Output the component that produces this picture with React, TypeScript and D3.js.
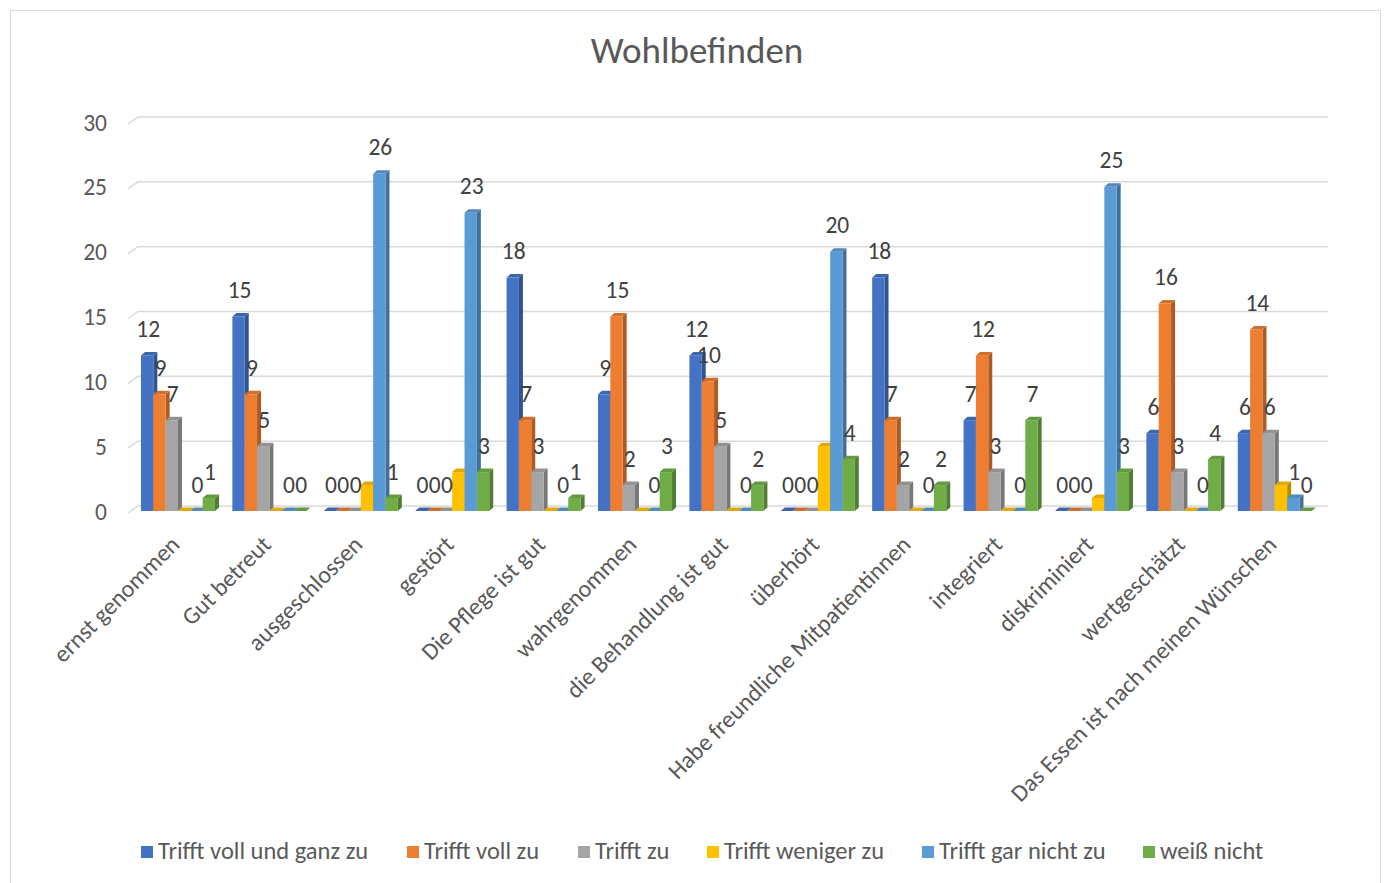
import React from "react";
import * as d3 from "d3";

const categories = [
  "ernst genommen",
  "Gut betreut",
  "ausgeschlossen",
  "gestört",
  "Die Pflege ist gut",
  "wahrgenommen",
  "die Behandlung ist gut",
  "überhört",
  "Habe freundliche Mitpatientinnen",
  "integriert",
  "diskriminiert",
  "wertgeschätzt",
  "Das Essen ist nach meinen Wünschen",
];

const seriesNames = [
  "Trifft voll und ganz zu",
  "Trifft voll zu",
  "Trifft zu",
  "Trifft weniger zu",
  "Trifft gar nicht zu",
  "weiß nicht",
];

const trifftVollUndGanz = [12, 15, 0, 0, 18, 9, 12, 0, 18, 7, 0, 6, 6];
const trifftVoll = [9, 9, 0, 0, 7, 15, 10, 0, 7, 12, 0, 16, 14];
const trifftZu = [7, 5, 0, 0, 3, 2, 5, 0, 2, 3, 0, 3, 6];
const trifftWeniger = [0, 0, 2, 3, 0, 0, 0, 5, 0, 0, 1, 0, 2];
const trifftGarNicht = [0, 0, 26, 23, 0, 0, 0, 20, 0, 0, 25, 0, 1];
const weissNicht = [1, 0, 1, 3, 1, 3, 2, 4, 2, 7, 3, 4, 0];

const seriesValues = [trifftVollUndGanz, trifftVoll, trifftZu, trifftWeniger, trifftGarNicht, weissNicht];
const seriesColors = ["#4472C4", "#ED7D31", "#A5A5A5", "#FFC000", "#5B9BD5", "#70AD47"];
const seriesShowLabels = [true, true, true, false, true, true];

const yTicks = [0, 5, 10, 15, 20, 25, 30];

const FONT = "Carlito, Calibri, 'Liberation Sans', Arial, sans-serif";
const TEXT = "#595959";

export default function App() {
  const W = 1391;
  const H = 883;
  const x0 = d3
    .scaleBand<string>()
    .domain(categories)
    .range([132.3, 1320.5])
    .paddingInner(0.19)
    .paddingOuter(0.095);
  const x1 = d3
    .scaleBand<string>()
    .domain(seriesNames)
    .range([0, x0.bandwidth()]);
  const y = d3.scaleLinear().domain([0, 30]).range([511, 122]);

  const dx = 4;
  const dy = 3.5;
  const backDx = 10;
  const backDy = 7;

  const legendX = [141, 407, 578, 707, 922, 1143];

  return (
    <svg
      width={W}
      height={H}
      style={{ position: "fixed", left: 0, top: 0, background: "#fff" }}
      fontFamily={FONT}
    >
      <rect x={0} y={0} width={W} height={H} fill="#fff" />
      <rect x={10.5} y={10.5} width={1370} height={890} fill="none" stroke="#d9d9d9" strokeWidth={1} />
      <text x={697} y={54} textAnchor="middle" dominantBaseline="middle" fontSize={37} fill={TEXT}>
        Wohlbefinden
      </text>

      {/* gridlines */}
      {yTicks.map((t) => (
        <g key={t}>
          <polyline
            points={`${128},${y(t) + 2} ${128 + backDx},${y(t) + 2 - backDy} ${1328},${y(t) + 2 - backDy}`}
            fill="none"
            stroke="#d9d9d9"
            strokeWidth={1.5}
          />
          <text x={107} y={y(t) + 3} textAnchor="end" dominantBaseline="middle" fontSize={23.5} fill={TEXT}>
            {t}
          </text>
        </g>
      ))}

      {/* bars */}
      {categories.map((c, ci) => {
        const gx = x0(c) as number;
        return (
          <g key={c}>
            {seriesNames.map((s, si) => {
              const v = seriesValues[si][ci];
              const bx = gx + (x1(s) as number);
              const bw = x1.bandwidth();
              const top = y(v);
              const base = y(0);
              const col = d3.color(seriesColors[si])!;
              const side = col.darker(0.9).formatHex();
              const topc = col.darker(0.35).formatHex();
              return (
                <g key={s}>
                  <polygon
                    points={`${bx + bw},${top} ${bx + bw + dx},${top - dy} ${bx + bw + dx},${base - dy} ${bx + bw},${base}`}
                    fill={side}
                  />
                  <rect x={bx} y={top} width={bw} height={base - top} fill={seriesColors[si]} />
                  <polygon
                    points={`${bx},${top} ${bx + dx},${top - dy} ${bx + bw + dx},${top - dy} ${bx + bw},${top}`}
                    fill={topc}
                  />
                </g>
              );
            })}
          </g>
        );
      })}

      {/* data labels */}
      {categories.map((c, ci) => {
        const gx = x0(c) as number;
        return (
          <g key={c + "-l"}>
            {seriesNames.map((s, si) => {
              if (!seriesShowLabels[si]) return null;
              const v = seriesValues[si][ci];
              const cx = gx + (x1(s) as number) + x1.bandwidth() / 2 + 1;
              return (
                <text
                  key={s}
                  x={cx}
                  y={y(v) - 24}
                  textAnchor="middle"
                  dominantBaseline="middle"
                  fontSize={23.5}
                  fill="#404040"
                >
                  {v}
                </text>
              );
            })}
          </g>
        );
      })}

      {/* category labels */}
      {categories.map((c) => {
        const cx = (x0(c) as number) + x0.bandwidth() / 2 + 3;
        return (
          <text
            key={c + "-c"}
            transform={`translate(${cx},${546}) rotate(-45)`}
            textAnchor="end"
            fontSize={24}
            fill={TEXT}
          >
            {c}
          </text>
        );
      })}

      {/* legend */}
      {seriesNames.map((s, si) => (
        <g key={s + "-lg"}>
          <rect x={legendX[si]} y={846} width={12} height={12} fill={seriesColors[si]} />
          <text x={legendX[si] + 17} y={853} dominantBaseline="middle" fontSize={24.5} fill={TEXT}>
            {s}
          </text>
        </g>
      ))}
    </svg>
  );
}
